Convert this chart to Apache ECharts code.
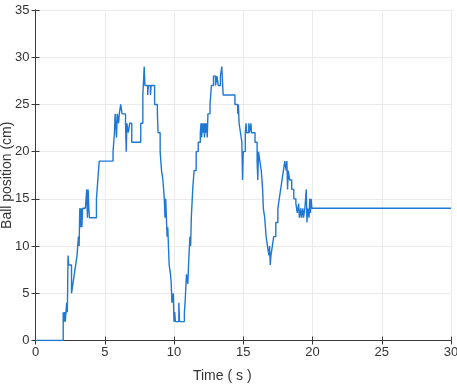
<!DOCTYPE html>
<html>
<head>
<meta charset="utf-8">
<script src="https://cdn.jsdelivr.net/npm/echarts@6/dist/echarts.min.js"></script>
<style>
html,body{margin:0;padding:0;background:#fff;}
#chart{width:457px;height:384px;}
</style>
</head>
<body>
<div id="chart"></div>
<script>
var xTicks = [0, 5, 10, 15, 20, 25, 30];
var yTicks = [0, 5, 10, 15, 20, 25, 30, 35];
var times = [
  0, 2.0, 2.05, 2.1, 2.15, 2.2, 2.25, 2.3, 2.35, 2.4, 2.6, 2.7, 2.8, 2.9, 3.0, 3.05, 3.1, 3.15, 3.2, 3.25,
  3.3, 3.35, 3.4, 3.6, 3.7, 3.75, 3.8, 3.85, 3.9, 4.4, 4.5, 4.6, 5.6, 5.7, 5.75, 5.85, 5.9, 6.0, 6.05, 6.15,
  6.25, 6.35, 6.5, 6.55, 6.6, 6.7, 6.8, 6.95, 7.6, 7.75, 7.85, 7.9, 8.1, 8.15, 8.3, 8.35, 8.6, 8.8, 8.85, 9.0,
  9.1, 9.2, 9.25, 9.3, 9.35, 9.4, 9.45, 9.5, 9.55, 9.6, 9.65, 9.75, 9.8, 9.85, 9.95, 10.0, 10.05, 10.1, 10.35, 10.4,
  10.75, 10.8, 10.9, 11.0, 11.05, 11.15, 11.2, 11.25, 11.35, 11.45, 11.6, 11.75, 11.9, 11.95, 12.0, 12.05, 12.1, 12.15, 12.2, 12.25,
  12.3, 12.35, 12.4, 12.45, 12.6, 12.7, 12.85, 13.0, 13.1, 13.2, 13.35, 13.45, 13.55, 14.4, 14.6, 14.65, 14.7, 14.8, 14.9, 14.95,
  15.0, 15.15, 15.2, 15.25, 15.4, 15.45, 15.55, 15.6, 15.85, 16.0, 16.05, 16.1, 16.2, 16.3, 16.4, 16.45, 16.55, 16.65, 16.75, 16.85,
  16.9, 16.95, 17.0, 17.1, 17.2, 17.35, 17.5, 17.6, 17.7, 17.8, 17.9, 18.0, 18.1, 18.15, 18.2, 18.25, 18.35, 18.5, 18.65, 18.8,
  18.9, 19.0, 19.05, 19.15, 19.2, 19.3, 19.35, 19.45, 19.55, 19.6, 19.65, 19.75, 19.8, 19.85, 19.9, 19.95, 30
];
var positions = [
  0, 3, 2, 3, 2, 3, 4, 3, 9, 8, 5, 6, 7, 8, 9, 10, 11, 10, 14, 12,
  14, 12, 14, 14, 16, 13, 16, 14, 13, 15, 17, 19, 20, 22, 24, 21.5, 24, 23, 24, 25,
  24, 24, 23, 20, 23, 22, 23, 21, 23, 26, 29, 27, 26, 27, 26, 27, 25, 24, 22, 20,
  18, 17, 16, 15, 13, 15, 13, 11, 12, 10, 8, 7, 6, 4, 5, 2, 3, 2, 4, 2,
  3, 4, 7, 6, 8, 11, 10, 13, 16, 18, 20, 21, 22, 23, 21.5, 23, 22, 23, 21.5, 23,
  22, 23, 21.5, 24, 25, 27, 28, 27, 28, 27, 28, 29, 26, 25, 24, 25, 23, 22, 21, 17,
  20, 22, 23, 22, 23, 22, 23, 22, 21, 19, 17, 20, 19, 18, 16, 14, 13, 11, 10, 9,
  10, 8, 9, 10, 11, 12.5, 14, 15, 16, 17, 18, 19, 18, 19, 16, 18, 17, 16, 15, 14.5,
  13.5, 14.5, 13, 14, 13, 14, 13, 14, 16, 12.5, 14, 13, 15, 13.5, 15, 14, 14
];

var seriesData = times.map(function (t, i) { return [t, positions[i]]; });

var axisColor = '#3a3a3a';
var labelColor = '#333333';
var fontFamily = 'Liberation Sans, Arial, sans-serif';

var chart = echarts.init(document.getElementById('chart'), null, {renderer: 'canvas'});
chart.setOption({
  animation: false,
  backgroundColor: '#ffffff',
  grid: {left: 35.5, right: 6, top: 10, bottom: 43.5, show: false, containLabel: false, outerBoundsMode: 'none'},
  xAxis: [{
    type: 'value', position: 'bottom', min: xTicks[0], max: xTicks[xTicks.length - 1], interval: 5,
    name: 'Time ( s )', nameLocation: 'middle', nameGap: 29, nameMoveOverlap: false,
    nameTextStyle: {color: labelColor, fontSize: 14, fontFamily: fontFamily, padding: [0, 42, 0, 0]},
    axisLine: {show: true, lineStyle: {color: axisColor, width: 1}},
    axisTick: {show: true, inside: true, length: 4, lineStyle: {color: axisColor}},
    axisLabel: {color: labelColor, fontSize: 13, fontFamily: fontFamily, margin: 5},
    splitLine: {show: true, lineStyle: {color: '#ebebeb', width: 1}}
  }, {
    type: 'value', position: 'top', min: xTicks[0], max: xTicks[xTicks.length - 1], interval: 5,
    axisLine: {show: true, lineStyle: {color: axisColor, width: 1}},
    axisTick: {show: true, inside: true, length: 4, lineStyle: {color: axisColor}},
    axisLabel: {show: false}, splitLine: {show: false}
  }],
  yAxis: [{
    type: 'value', position: 'left', min: yTicks[0], max: yTicks[yTicks.length - 1], interval: 5,
    name: 'Ball position (cm)', nameLocation: 'middle', nameGap: 21, nameRotate: 90, nameMoveOverlap: false,
    nameTextStyle: {color: labelColor, fontSize: 14, fontFamily: fontFamily},
    axisLine: {show: true, lineStyle: {color: axisColor, width: 1}},
    axisTick: {show: true, inside: true, length: 4, lineStyle: {color: axisColor}},
    axisLabel: {color: labelColor, fontSize: 13, fontFamily: fontFamily, margin: 6},
    splitLine: {show: true, lineStyle: {color: '#ebebeb', width: 1}}
  }, {
    type: 'value', position: 'right', min: yTicks[0], max: yTicks[yTicks.length - 1], interval: 5,
    axisLine: {show: true, lineStyle: {color: axisColor, width: 1}},
    axisTick: {show: true, inside: true, length: 4, lineStyle: {color: axisColor}},
    axisLabel: {show: false}, splitLine: {show: false}
  }],
  series: [{
    type: 'line',
    xAxisIndex: 0, yAxisIndex: 0,
    step: 'end',
    data: seriesData,
    showSymbol: false,
    symbol: 'none',
    lineStyle: {color: '#1f78d1', width: 1.4}
  }]
});
</script>
</body>
</html>
